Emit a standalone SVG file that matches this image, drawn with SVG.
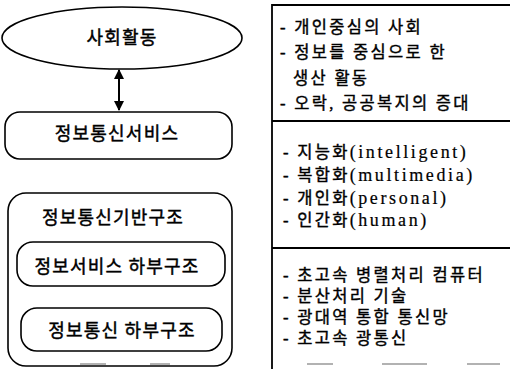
<svg xmlns="http://www.w3.org/2000/svg" width="510" height="369" viewBox="0 0 510 369">
<defs>
<style>
.shape{fill:none;stroke:#000;stroke-width:1.6}
.lt{font-family:"Noto Sans CJK KR","Liberation Sans",sans-serif;font-size:18px;letter-spacing:1.2px;text-anchor:middle;fill:#000;stroke:#000;stroke-width:0.45px}
.rt{font-family:"Liberation Serif","Noto Sans CJK KR",serif;font-size:16.5px;letter-spacing:2.3px;fill:#000;stroke:#000;stroke-width:0.4px}
.en{font-size:18px;letter-spacing:2.6px;stroke-width:0.2px}
.frame{stroke:#000;stroke-width:1.8;fill:none}
.art{stroke:#999;stroke-width:1.5}
</style>
<marker id="ah" viewBox="0 0 10 10" refX="9" refY="5" markerWidth="10" markerHeight="10" markerUnits="userSpaceOnUse" orient="auto-start-reverse">
<path d="M0,0 L10,5 L0,10 Z" fill="#000"/>
</marker>
</defs>

<g id="connectors">
<line x1="119" y1="70" x2="119" y2="110" stroke="#000" stroke-width="2" marker-start="url(#ah)" marker-end="url(#ah)"/>
</g>

<g id="social">
<ellipse class="shape" cx="122" cy="38" rx="120" ry="31"/>
<text class="lt" x="122" y="44">사회활동</text>
</g>

<g id="service">
<rect class="shape" x="5" y="112" width="227" height="47" rx="15"/>
<text class="lt" x="117" y="140">정보통신서비스</text>
</g>

<g id="infra">
<rect class="shape" x="8" y="193" width="224" height="173" rx="18"/>
<text class="lt" x="113" y="224">정보통신기반구조</text>
</g>

<g id="infoService">
<rect class="shape" x="17" y="242" width="208" height="44" rx="16"/>
<text class="lt" x="117" y="273">정보서비스 하부구조</text>
</g>

<g id="infoComm">
<rect class="shape" x="21" y="308" width="201" height="43" rx="16"/>
<text class="lt" x="122" y="337">정보통신 하부구조</text>
</g>

<g id="table">
<path class="frame" d="M510,5 H272 V369"/>
<line class="frame" x1="272" y1="121" x2="510" y2="121"/>
<line class="frame" x1="272" y1="248" x2="510" y2="248"/>
<text class="rt" x="280" y="33">- 개인중심의 사회</text>
<text class="rt" x="280" y="58">- 정보를 중심으로 한</text>
<text class="rt" x="293" y="84">생산 활동</text>
<text class="rt" x="280" y="109">- 오락, 공공복지의 증대</text>
<text class="rt" x="283" y="158">- 지능화<tspan class="en">(intelligent)</tspan></text>
<text class="rt" x="283" y="181">- 복합화<tspan class="en">(multimedia)</tspan></text>
<text class="rt" x="283" y="204">- 개인화<tspan class="en">(personal)</tspan></text>
<text class="rt" x="283" y="226">- 인간화<tspan class="en">(human)</tspan></text>
<text class="rt" x="283" y="281">- 초고속 병렬처리 컴퓨터</text>
<text class="rt" x="283" y="302">- 분산처리 기술</text>
<text class="rt" x="283" y="323">- 광대역 통합 통신망</text>
<text class="rt" x="283" y="344">- 초고속 광통신</text>
</g>

<g id="scan-edge">
<line class="art" x1="80" y1="364" x2="106" y2="364"/>
<line class="art" x1="150" y1="364" x2="170" y2="364"/>
<line class="art" x1="307" y1="364" x2="333" y2="364"/>
<line class="art" x1="382" y1="364" x2="427" y2="364"/>
<line class="art" x1="467" y1="364" x2="500" y2="364"/>
</g>
</svg>
